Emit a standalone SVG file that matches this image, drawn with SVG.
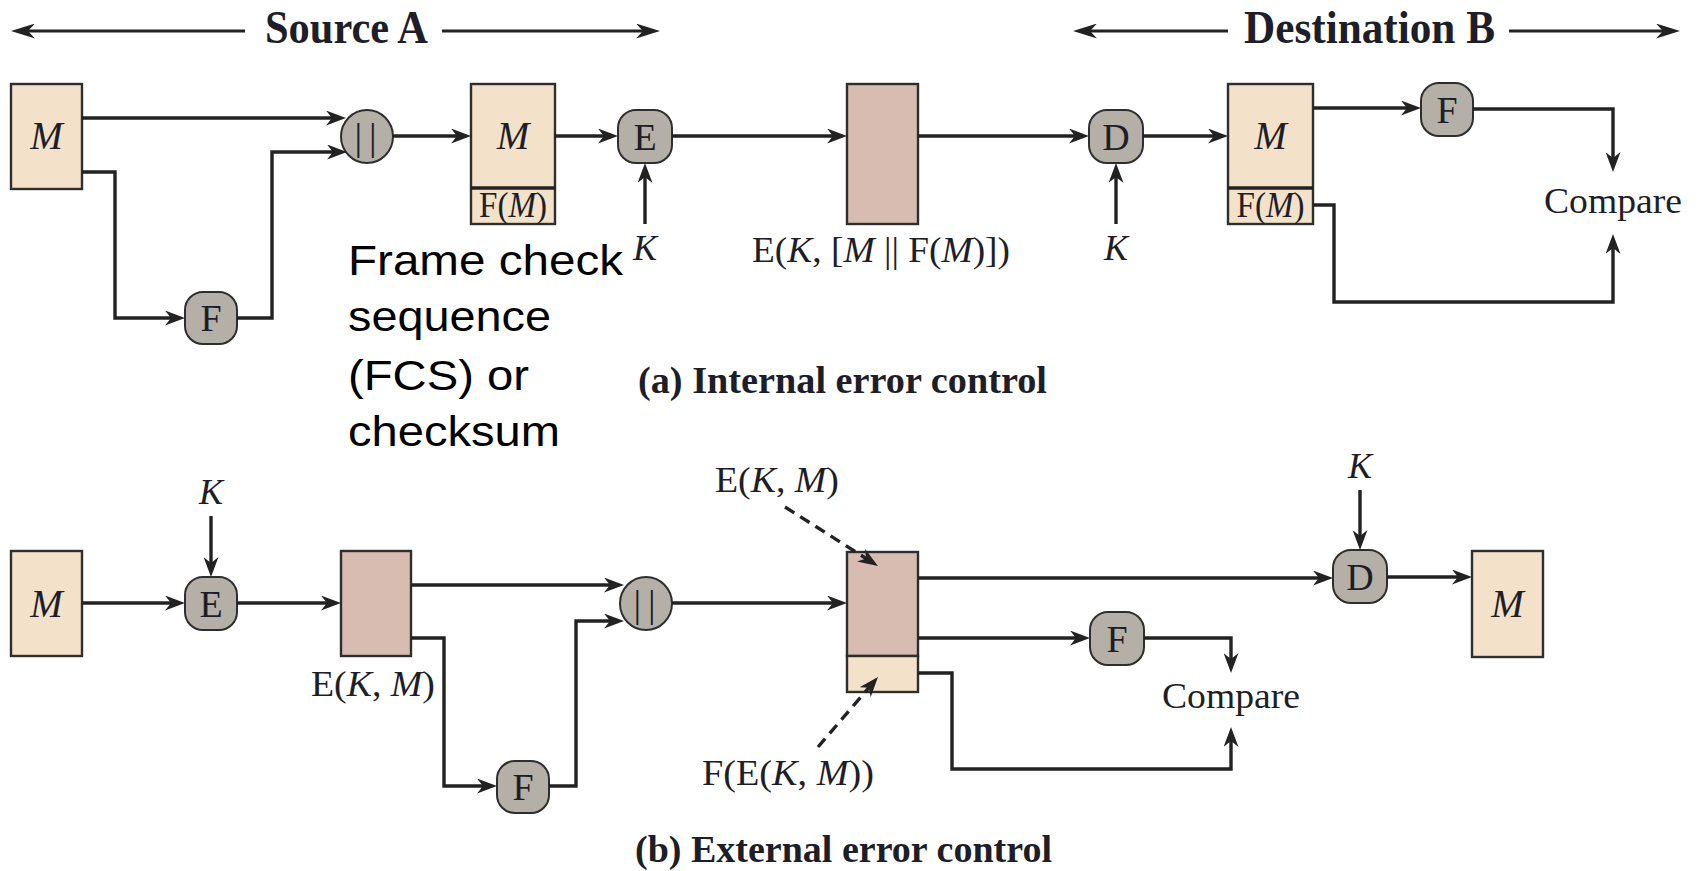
<svg xmlns="http://www.w3.org/2000/svg" width="1698" height="871" viewBox="0 0 1698 871">
<style>
.bg{fill:#ffffff}
.peach{fill:#f4e1c9;stroke:#2e2e2e;stroke-width:2.4}
.pink{fill:#d8bcb1;stroke:#2e2e2e;stroke-width:2.4}
.op{fill:#b4b0a7;stroke:#2e2e2e;stroke-width:2}
.div{stroke:#222;stroke-width:3.5}
.lbl{font-family:"Liberation Serif","Times New Roman",serif;fill:#1e1e28;font-size:36px}
.bm{font-size:39px}
.ops{font-family:"Liberation Serif","Times New Roman",serif;fill:#1e1e28;font-size:38px;text-anchor:middle}
.mid{text-anchor:middle}
.it{font-style:italic}
.hdr{font-family:"Liberation Serif","Times New Roman",serif;font-weight:bold;fill:#1e1e28;font-size:47px}
.cap{font-family:"Liberation Serif","Times New Roman",serif;font-weight:bold;fill:#1e1e28;font-size:37px}
.note{font-family:"Liberation Sans",Arial,sans-serif;fill:#000;font-size:42px}
.conn path{fill:none;stroke:#222;stroke-width:3.4;marker-end:url(#ah)}
.conn path.dash{stroke-dasharray:11 7}
.hdrarr path{fill:none;stroke:#222;stroke-width:3.2;marker-end:url(#hah)}
</style>
<defs>
<marker id="ah" viewBox="0 0 20 15" refX="10" refY="7.5" markerWidth="20" markerHeight="15" markerUnits="userSpaceOnUse" orient="auto"><path d="M0,0 L20,7.5 L0,15 L6,7.5 Z" fill="#222"/></marker>
<marker id="hah" viewBox="0 0 24 15" refX="10" refY="7.5" markerWidth="24" markerHeight="15" markerUnits="userSpaceOnUse" orient="auto"><path d="M0,0 L24,7.5 L0,15 L7,7.5 Z" fill="#222"/></marker>
</defs>
<rect class="bg" x="0" y="0" width="1698" height="871"/>

<g id="header">
<g class="hdrarr">
<path d="M245,31 H25"/>
<path d="M442,31 H646"/>
<path d="M1228,31 H1087"/>
<path d="M1509,31 H1666"/>
</g>
<text class="hdr" x="265" y="43" textLength="163" lengthAdjust="spacingAndGlyphs">Source A</text>
<text class="hdr" x="1244" y="43" textLength="251" lengthAdjust="spacingAndGlyphs">Destination B</text>
</g>

<!-- Part (a) -->
<g id="a_M1"><rect class="peach" x="11" y="84" width="71" height="105"/><text class="lbl bm mid it" x="46.5" y="149">M</text></g>
<g id="a_F1"><rect class="op" x="185" y="292" width="52" height="52" rx="18"/><text class="ops" x="211" y="331">F</text></g>
<g id="a_concat"><ellipse class="op" cx="367" cy="136.5" rx="26" ry="26.5"/><text class="ops" x="369" y="150" letter-spacing="7">||</text></g>
<g id="a_M2"><rect class="peach" x="471" y="84" width="84" height="140"/><line class="div" x1="471" y1="188" x2="555" y2="188"/><text class="lbl bm mid it" x="513" y="149">M</text><text class="lbl mid" x="513" y="217" font-size="31" textLength="68" lengthAdjust="spacingAndGlyphs">F(<tspan class="it">M</tspan>)</text></g>
<g id="a_E"><rect class="op" x="618" y="110" width="54" height="53" rx="18"/><text class="ops" x="645" y="149.5">E</text></g>
<g id="a_K1"><text class="lbl mid it" x="645" y="260">K</text></g>
<g id="a_C"><rect class="pink" x="847" y="84" width="71" height="140"/><text class="lbl mid" x="881" y="262" textLength="258" lengthAdjust="spacingAndGlyphs">E(<tspan class="it">K</tspan>, [<tspan class="it">M</tspan> || F(<tspan class="it">M</tspan>)])</text></g>
<g id="a_D"><rect class="op" x="1089" y="110" width="54" height="53" rx="18"/><text class="ops" x="1116" y="149.5">D</text></g>
<g id="a_K2"><text class="lbl mid it" x="1116" y="260">K</text></g>
<g id="a_M3"><rect class="peach" x="1228" y="84" width="85" height="140"/><line class="div" x1="1228" y1="188" x2="1313" y2="188"/><text class="lbl bm mid it" x="1270.5" y="149">M</text><text class="lbl mid" x="1270.5" y="217" font-size="31" textLength="68" lengthAdjust="spacingAndGlyphs">F(<tspan class="it">M</tspan>)</text></g>
<g id="a_F2"><rect class="op" x="1421" y="83" width="52" height="53" rx="18"/><text class="ops" x="1447" y="122.5">F</text></g>
<g id="a_cmp"><text class="lbl mid" x="1613" y="213" textLength="138" lengthAdjust="spacingAndGlyphs">Compare</text></g>
<g id="note">
<text class="note" x="348" y="275" textLength="275" lengthAdjust="spacingAndGlyphs">Frame check</text>
<text class="note" x="348" y="331" textLength="203" lengthAdjust="spacingAndGlyphs">sequence</text>
<text class="note" x="348" y="390" textLength="181" lengthAdjust="spacingAndGlyphs">(FCS) or</text>
<text class="note" x="348" y="446" textLength="212" lengthAdjust="spacingAndGlyphs">checksum</text>
</g>
<g id="cap_a"><text class="cap" x="638" y="393" textLength="409" lengthAdjust="spacingAndGlyphs">(a) Internal error control</text></g>

<!-- Part (b) -->
<g id="b_K1"><text class="lbl mid it" x="211" y="504">K</text></g>
<g id="b_M1"><rect class="peach" x="11" y="551" width="71" height="105"/><text class="lbl bm mid it" x="46.5" y="617">M</text></g>
<g id="b_E"><rect class="op" x="185" y="577" width="52" height="53" rx="18"/><text class="ops" x="211" y="616.5">E</text></g>
<g id="b_C"><rect class="pink" x="341" y="551" width="70" height="105"/><text class="lbl mid" x="373" y="696" textLength="124" lengthAdjust="spacingAndGlyphs">E(<tspan class="it">K</tspan>, <tspan class="it">M</tspan>)</text></g>
<g id="b_F1"><rect class="op" x="497" y="761" width="52" height="52" rx="18"/><text class="ops" x="523" y="800">F</text></g>
<g id="b_concat"><ellipse class="op" cx="646" cy="603.5" rx="26" ry="26.5"/><text class="ops" x="648" y="617" letter-spacing="7">||</text></g>
<g id="b_R"><rect class="pink" x="847" y="552" width="71" height="104"/><rect class="peach" x="847" y="656" width="71" height="36"/></g>
<g id="b_lbl1"><text class="lbl mid" x="777" y="492" textLength="124" lengthAdjust="spacingAndGlyphs">E(<tspan class="it">K</tspan>, <tspan class="it">M</tspan>)</text></g>
<g id="b_lbl2"><text class="lbl mid" x="788" y="785" textLength="172" lengthAdjust="spacingAndGlyphs">F(E(<tspan class="it">K</tspan>, <tspan class="it">M</tspan>))</text></g>
<g id="b_F2"><rect class="op" x="1090" y="612" width="54" height="53" rx="18"/><text class="ops" x="1117" y="651.5">F</text></g>
<g id="b_cmp"><text class="lbl mid" x="1231" y="708" textLength="138" lengthAdjust="spacingAndGlyphs">Compare</text></g>
<g id="b_K2"><text class="lbl mid it" x="1360" y="478">K</text></g>
<g id="b_D"><rect class="op" x="1333" y="550" width="54" height="53" rx="18"/><text class="ops" x="1360" y="589.5">D</text></g>
<g id="b_M2"><rect class="peach" x="1472" y="551" width="71" height="106"/><text class="lbl bm mid it" x="1507.5" y="617">M</text></g>
<g id="cap_b"><text class="cap" x="635" y="862" textLength="417" lengthAdjust="spacingAndGlyphs">(b) External error control</text></g>

<g id="connectors" class="conn">
<path d="M82,118 H336"/>
<path d="M82,172 H115 V318 H175"/>
<path d="M237,318 H272 V152 H337"/>
<path d="M393,136 H461"/>
<path d="M555,136 H608"/>
<path d="M645,224 V173"/>
<path d="M672,136 H837"/>
<path d="M918,136 H1079"/>
<path d="M1116,224 V173"/>
<path d="M1143,136 H1218"/>
<path d="M1313,108 H1411"/>
<path d="M1473,109 H1613 V162"/>
<path d="M1313,205 H1334 V302 H1613 V244"/>
<path d="M82,603 H175"/>
<path d="M211,516 V567"/>
<path d="M237,603 H331"/>
<path d="M411,585 H614"/>
<path d="M411,638 H444 V786 H487"/>
<path d="M549,786 H576 V621 H614"/>
<path d="M672,603 H837"/>
<path d="M918,578 H1323"/>
<path d="M1360,490 V540"/>
<path d="M1387,577 H1462"/>
<path d="M918,638 H1080"/>
<path d="M1144,638 H1231 V663"/>
<path d="M918,673 H952 V769 H1231 V737"/>
<path class="dash" d="M785,507 L869.5,560.6"/>
<path class="dash" d="M818,747 L871.5,684.6"/>
</g>
</svg>
